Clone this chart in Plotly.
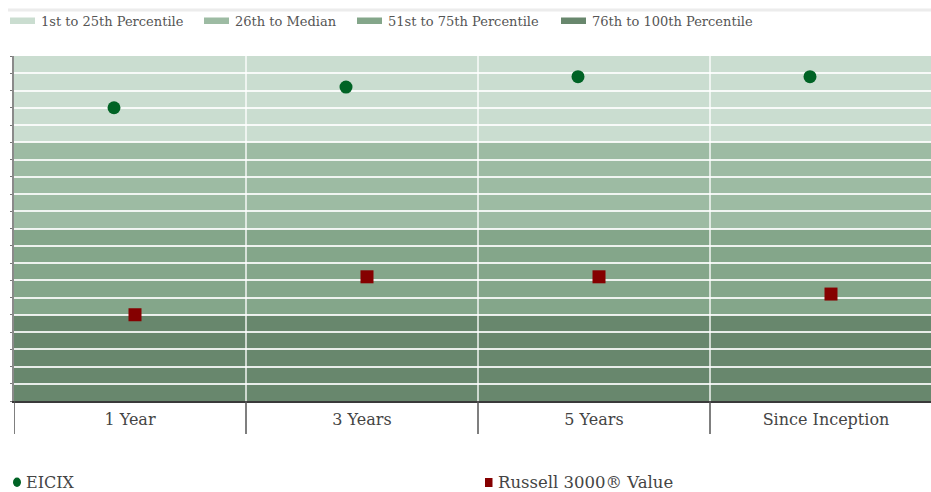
import plotly.graph_objects as go

# ---- data ----
categories = ["1 Year", "3 Years", "5 Years", "Since Inception"]
eicix_pct = [15, 9, 6, 6]
russell_pct = [75, 64, 64, 69]
band_edges = [0, 25, 50, 75, 100]
band_labels = ["1st to 25th Percentile", "26th to Median",
               "51st to 75th Percentile", "76th to 100th Percentile"]
band_colors = ["#CADDD0", "#9DBBA3", "#84A68A", "#68876D"]
series_names = ["EICIX", "Russell 3000® Value"]
series_colors = ["#006325", "#850000"]

W, H = 931, 492
ML, MR, MT = 14, 0, 56
MB = H - 401
PW = W - ML - MR
PH = H - MT - MB
COLW = 232.0  # pixel width of one category column

def px_x(px):  # screen px -> paper
    return (px - ML) / PW

def px_y(py):
    return (H - MB - py) / PH

xr_end = -0.5 + PW / COLW
idx = list(range(len(categories)))
off_e = -16 / COLW
off_r = 5 / COLW

fig = go.Figure()
fig.add_trace(go.Scatter(
    x=[i + off_e for i in idx], y=eicix_pct, mode="markers", name=series_names[0],
    marker=dict(symbol="circle", size=13, color=series_colors[0]),
    showlegend=False, cliponaxis=False))
fig.add_trace(go.Scatter(
    x=[i + off_r for i in idx], y=russell_pct, mode="markers", name=series_names[1],
    marker=dict(symbol="square", size=13, color=series_colors[1]),
    showlegend=False, cliponaxis=False))

shapes = []
for k in range(len(band_labels)):
    shapes.append(dict(type="rect", xref="paper", yref="y", x0=0, x1=1,
                       y0=band_edges[k], y1=band_edges[k + 1],
                       fillcolor=band_colors[k], line=dict(width=0), layer="below"))
for b in [i + 0.5 for i in idx[:-1]]:
    shapes.append(dict(type="line", xref="x", yref="paper", x0=b, x1=b, y0=0, y1=1,
                       line=dict(color="rgba(255,255,255,0.9)", width=1.5), layer="between"))
for b in [i - 0.5 for i in idx]:
    shapes.append(dict(type="line", xref="x", yref="paper", x0=b, x1=b,
                       y0=px_y(401), y1=px_y(434),
                       line=dict(color="#555555", width=1.5)))
shapes.append(dict(type="line", xref="paper", yref="paper", x0=px_x(8), x1=px_x(931),
                   y0=px_y(10), y1=px_y(10), line=dict(color="#ececec", width=3)))

annotations = []
sw_x = [10, 204, 357, 561]
for k, lab in enumerate(band_labels):
    shapes.append(dict(type="rect", xref="paper", yref="paper",
                       x0=px_x(sw_x[k]), x1=px_x(sw_x[k] + 25),
                       y0=px_y(24), y1=px_y(17.5),
                       fillcolor=band_colors[k], line=dict(width=0)))
    annotations.append(dict(xref="paper", yref="paper", x=px_x(sw_x[k] + 29), y=px_y(21),
                            xanchor="left", yanchor="middle", showarrow=False, text=lab,
                            font=dict(family="DejaVu Serif", size=13, color="#555555")))
shapes.append(dict(type="circle", xref="paper", yref="paper",
                   x0=px_x(13), x1=px_x(21), y0=px_y(487), y1=px_y(477.5),
                   fillcolor=series_colors[0], line=dict(width=0)))
shapes.append(dict(type="rect", xref="paper", yref="paper",
                   x0=px_x(485), x1=px_x(492.5), y0=px_y(487), y1=px_y(478),
                   fillcolor=series_colors[1], line=dict(width=0)))
annotations.append(dict(xref="paper", yref="paper", x=px_x(24), y=px_y(482.5),
                        xanchor="left", yanchor="middle", showarrow=False, text=series_names[0],
                        font=dict(family="DejaVu Serif", size=16, color="#444444")))
annotations.append(dict(xref="paper", yref="paper", x=px_x(496), y=px_y(482.5),
                        xanchor="left", yanchor="middle", showarrow=False, text=series_names[1],
                        font=dict(family="DejaVu Serif", size=16.5, color="#444444")))

fig.update_layout(
    width=W, height=H,
    margin=dict(l=ML, r=MR, t=MT, b=MB),
    paper_bgcolor="white", plot_bgcolor="white",
    showlegend=False,
    shapes=shapes, annotations=annotations,
    xaxis=dict(range=[-0.5, xr_end], tickvals=idx, ticktext=categories,
               showgrid=False, zeroline=False, showline=True, linecolor="#3a3a3a",
               linewidth=1.5, ticks="", ticklabelstandoff=3,
               tickfont=dict(family="DejaVu Serif", size=16, color="#444444")),
    yaxis=dict(range=[100, 0], dtick=5, tick0=0, showgrid=True, gridcolor="rgba(255,255,255,0.85)",
               gridwidth=1.5, zeroline=False, showticklabels=False,
               showline=True, linecolor="#8a8a8a", linewidth=2,
               ticks="outside", ticklen=2, tickcolor="#777777"),
)

fig.write_html("out.html", config={"displayModeBar": False},
               post_script="document.body.style.margin='0';document.body.style.overflow='hidden';")
